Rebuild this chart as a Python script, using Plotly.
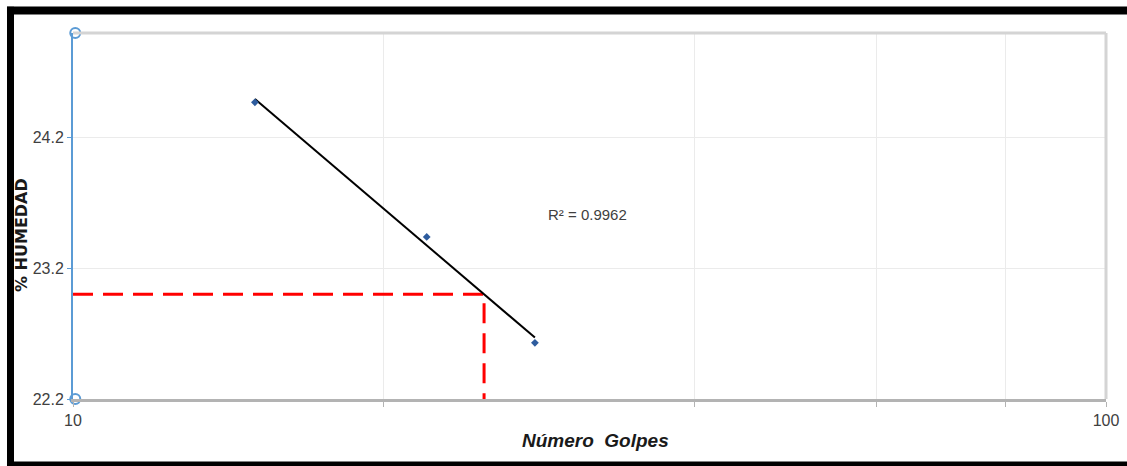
import numpy as np
import plotly.graph_objects as go

# Liquid limit test: blows vs. moisture content
golpes = [15, 22, 28]
humedad = [24.47, 23.44, 22.63]
golpes_ref = 25
r2_label = "R² = 0.9962"

x_ticks = [10, 20, 40, 60, 80, 100]
x_tick_text = ["10", "", "", "", "", "100"]
y_range = [22.2, 25.0]
x_range_log = [1, 2]

# logarithmic trend line fitted on log10(blows)
lx = np.log10(golpes)
slope, intercept = np.polyfit(lx, humedad, 1)
x_fit = np.logspace(lx.min(), lx.max(), 50)
y_fit = slope * np.log10(x_fit) + intercept
h_ref = slope * np.log10(golpes_ref) + intercept

sans = "Liberation Sans Narrow, Arial Narrow, Liberation Sans, Arial, sans-serif"
blue_axis = "#5b9bd5"

fig = go.Figure()

# reading of moisture at 25 blows
fig.add_trace(go.Scatter(
    x=[10, golpes_ref, golpes_ref], y=[h_ref, h_ref, y_range[0]],
    mode="lines", line=dict(color="#ff0000", width=3, dash="20px,10px"),
    hoverinfo="skip", showlegend=False, cliponaxis=False))

fig.add_trace(go.Scatter(
    x=x_fit, y=y_fit, mode="lines",
    line=dict(color="#000000", width=2), showlegend=False))

fig.add_trace(go.Scatter(
    x=golpes, y=humedad, mode="markers",
    marker=dict(symbol="diamond", size=6, color="#2e5c9e"),
    showlegend=False))

# axis end caps on the vertical axis
off = 10 ** 0.0022
fig.add_trace(go.Scatter(
    x=[10 / off, 10 * off, 10 / off, 10 * off],
    y=[y_range[0], y_range[0], y_range[1], y_range[1]],
    mode="markers", cliponaxis=False,
    marker=dict(symbol="circle-open", size=10, color=blue_axis,
                line=dict(width=2, color=blue_axis)),
    hoverinfo="skip", showlegend=False))

fig.update_xaxes(
    type="log", range=x_range_log, tickvals=x_ticks, ticktext=x_tick_text,
    showgrid=True, gridcolor="#ebebeb", gridwidth=1,
    showline=True, linecolor="#b3b3b3", linewidth=3,
    ticks="outside", ticklen=5, tickcolor="#b3b3b3",
    tickfont=dict(family=sans, size=16, color="#404040"),
    zeroline=False, automargin=False)
fig.update_yaxes(
    range=y_range, tick0=22.2, dtick=1.0,
    showgrid=True, gridcolor="#ebebeb", gridwidth=1,
    showline=True, linecolor=blue_axis, linewidth=2,
    ticks="outside", ticklen=4, tickcolor=blue_axis,
    tickfont=dict(family=sans, size=16, color="#404040"),
    zeroline=False, automargin=False)

shapes = [
    # top and right borders of the plot area
    dict(type="line", xref="paper", yref="paper", x0=0, x1=1, y0=1, y1=1,
         line=dict(color="#d4d4d4", width=3)),
    dict(type="line", xref="paper", yref="paper", x0=1, x1=1, y0=0, y1=1,
         line=dict(color="#d4d4d4", width=3)),
    # black frame around the figure
    dict(type="line", xref="paper", yref="paper", x0=-0.0605, x1=-0.0605,
         y0=1.0615 + 0.01, y1=-0.2, line=dict(color="black", width=7)),
    dict(type="line", xref="paper", yref="paper", x0=-0.0639, x1=1.05,
         y0=1.0615, y1=1.0615, line=dict(color="black", width=8)),
    dict(type="line", xref="paper", yref="paper", x0=-0.0639, x1=1.05,
         y0=-0.1776, y1=-0.1776, line=dict(color="black", width=5)),
]

annotations = [
    dict(text=r2_label, xref="paper", yref="paper",
         x=(587 - 73) / 1033, y=(399 - 214) / 366, showarrow=False,
         xanchor="center", yanchor="middle",
         font=dict(family=sans, size=15, color="#404040")),
    dict(text="<b><i>Número  Golpes</i></b>", xref="paper", yref="paper",
         x=(595 - 73) / 1033, y=(399 - 440) / 366, showarrow=False,
         xanchor="center", yanchor="middle",
         font=dict(family=sans, size=19, color="#1a1a1a")),
    dict(text="<b>% HUMEDAD</b>", xref="paper", yref="paper", textangle=-90,
         x=(22 - 73) / 1033, y=(399 - 235) / 366, showarrow=False,
         xanchor="center", yanchor="middle",
         font=dict(family="DejaVu Sans", size=16, color="#1a1a1a")),
]

fig.update_layout(
    width=1127, height=466,
    margin=dict(l=73, r=21, t=33, b=67),
    paper_bgcolor="white", plot_bgcolor="white",
    shapes=shapes, annotations=annotations, showlegend=False)

fig.write_html("out.html")
